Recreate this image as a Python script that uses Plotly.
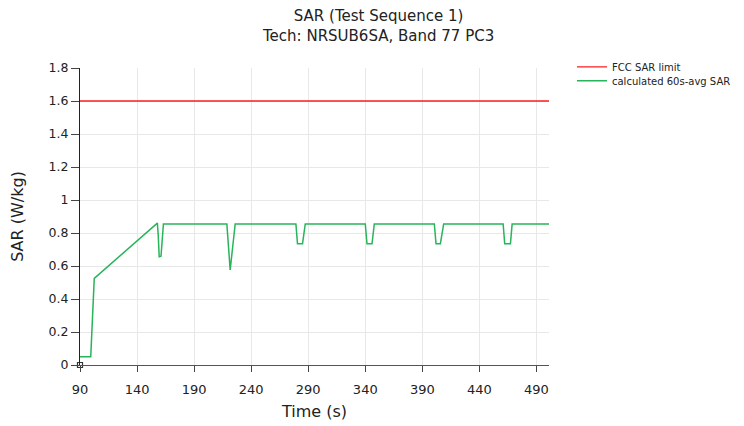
import plotly.graph_objects as go

# Data
time_s = [90, 99.4, 102.5, 157.8, 158.6, 159.4, 161.0, 163.1,
          218.7, 221.6, 226.0,
          279.2, 280.6, 285.0, 287.4,
          340.0, 341.5, 345.9, 347.9,
          400.5, 402.0, 405.8, 408.7,
          460.8, 462.2, 467.2, 468.7,
          501]
sar_avg = [0.05, 0.05, 0.525, 0.86, 0.78, 0.656, 0.66, 0.855,
           0.855, 0.576, 0.855,
           0.855, 0.735, 0.735, 0.855,
           0.855, 0.735, 0.735, 0.855,
           0.855, 0.735, 0.735, 0.855,
           0.855, 0.735, 0.735, 0.855,
           0.855]
limit_time = [90, 501]
limit_sar = [1.6, 1.6]

x_ticks = [90, 140, 190, 240, 290, 340, 390, 440, 490]
y_ticks = [0, 0.2, 0.4, 0.6, 0.8, 1, 1.2, 1.4, 1.6, 1.8]
y_tick_labels = ["0", "0.2", "0.4", "0.6", "0.8", "1", "1.2", "1.4", "1.6", "1.8"]

FONT = "DejaVu Sans"
# page body has an 8px margin, so the figure is sized to fit the window
W, H = 736, 418
ML, MT = 72, 60
PW, PH = 469, 297
MR, MB = W - ML - PW, H - MT - PH

fig = go.Figure()
fig.add_trace(go.Scatter(x=limit_time, y=limit_sar, mode="lines",
                         name="FCC SAR limit", legend="legend",
                         line=dict(color="rgb(250,30,30)", width=1.3)))
fig.add_trace(go.Scatter(x=time_s, y=sar_avg, mode="lines",
                         name="calculated 60s-avg SAR", legend="legend2",
                         line=dict(color="rgb(40,180,90)", width=1.5)))
fig.add_trace(go.Scatter(x=[90], y=[0], mode="markers", showlegend=False,
                         hoverinfo="skip",
                         marker=dict(symbol="square-open", size=5,
                                     color="#333", line=dict(width=1.2)),
                         cliponaxis=False))

fig.add_annotation(text="SAR (Test Sequence 1)<br>Tech: NRSUB6SA, Band 77 PC3",
                   xref="paper", yref="paper",
                   x=(370 - ML) / PW, y=(MT + PH + 3) / PH,
                   xanchor="center", yanchor="top", showarrow=False,
                   align="center",
                   font=dict(family=FONT, size=15, color="#222"))

leg_common = dict(xanchor="left", yanchor="middle", x=1.049,
                  font=dict(family=FONT, size=10, color="#222"),
                  bgcolor="rgba(0,0,0,0)", borderwidth=0)

fig.update_layout(
    width=W, height=H,
    paper_bgcolor="white", plot_bgcolor="white",
    margin=dict(l=ML, r=MR, t=MT, b=MB, autoexpand=False),
    font=dict(family=FONT, size=12, color="#222"),
    legend=dict(y=1.004, **leg_common),
    legend2=dict(y=0.957, **leg_common),
    showlegend=True,
)
fig.update_xaxes(range=[90, 501], tickvals=x_ticks, automargin=False,
                 ticks="outside", ticklen=6, tickcolor="#444",
                 ticklabelstandoff=6,
                 showline=True, linecolor="#555", linewidth=1.2,
                 showgrid=True, gridcolor="#e8e8e8", zeroline=False,
                 tickfont=dict(size=13),
                 title=dict(text="Time (s)", font=dict(size=16), standoff=10))
fig.update_yaxes(range=[0, 1.8], tickvals=y_ticks, ticktext=y_tick_labels,
                 automargin=False,
                 ticks="outside", ticklen=8, tickcolor="#444",
                 showline=True, linecolor="#222", linewidth=1.2,
                 showgrid=True, gridcolor="#e8e8e8", zeroline=False,
                 tickfont=dict(size=12.5),
                 title=dict(text="SAR (W/kg)", font=dict(size=16), standoff=26))

fig.write_html("out.html")
